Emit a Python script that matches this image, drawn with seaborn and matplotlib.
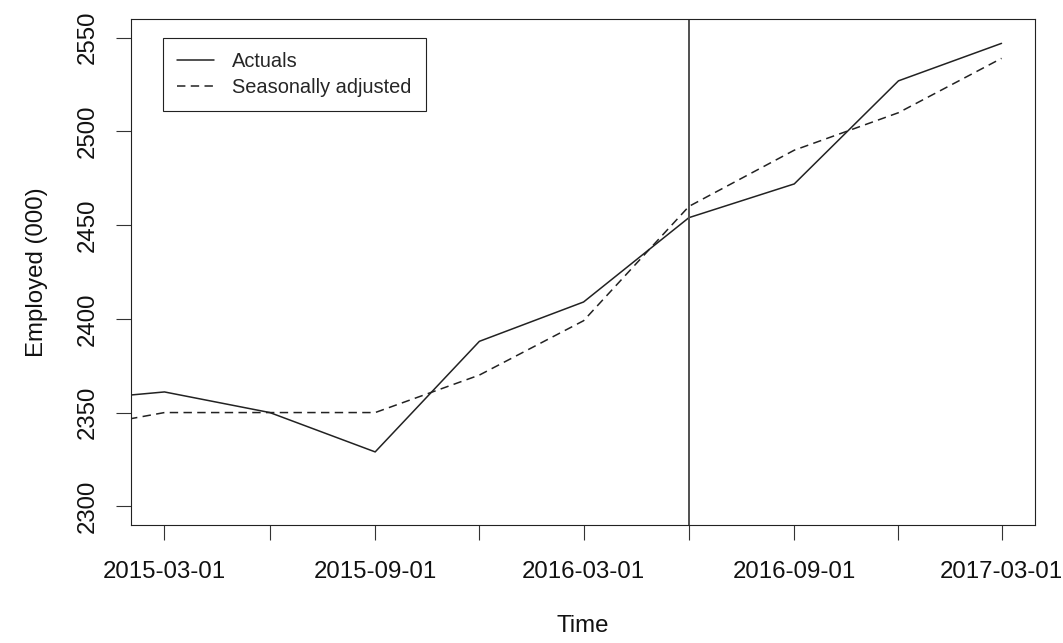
import matplotlib
matplotlib.use("Agg")
import matplotlib.pyplot as plt
import matplotlib.dates as mdates
from matplotlib.lines import Line2D
import numpy as np
import pandas as pd
import seaborn as sns

# Quarterly employment, thousands
quarters = ["2014-12-01", "2015-03-01", "2015-06-01", "2015-09-01", "2015-12-01",
            "2016-03-01", "2016-06-01", "2016-09-01", "2016-12-01", "2017-03-01"]
actuals = [2356, 2361, 2350, 2329, 2388, 2409, 2454, 2472, 2527, 2547]
seasonally_adjusted = [2340, 2350, 2350, 2350, 2370, 2399, 2460, 2490, 2510, 2539]

series_names = ["Actuals", "Seasonally adjusted"]
tick_dates = ["2015-03-01", "2015-06-01", "2015-09-01", "2015-12-01", "2016-03-01",
              "2016-06-01", "2016-09-01", "2016-12-01", "2017-03-01"]
tick_labels = ["2015-03-01", "", "2015-09-01", "", "2016-03-01",
               "", "2016-09-01", "", "2017-03-01"]
y_ticks = [2300, 2350, 2400, 2450, 2500, 2550]
y_range = (2300, 2550)
marker_date = "2016-06-01"

sns.set_theme(style="white")
plt.rcParams["font.family"] = ["Liberation Sans", "DejaVu Sans"]

W, H = 1063, 643
fig = plt.figure(figsize=(W / 100, H / 100), dpi=100)
ax = fig.add_axes([131 / W, 118 / H, 904 / W, 506 / H])

df = pd.DataFrame({"date": pd.to_datetime(quarters),
                   series_names[0]: actuals,
                   series_names[1]: seasonally_adjusted})
long = df.melt("date", var_name="series", value_name="employed")

line_color = "#222222"
dash = (5.5, 3.5)
sns.lineplot(data=long, x="date", y="employed", style="series",
             dashes={series_names[0]: "", series_names[1]: dash},
             color=line_color, linewidth=1.1, ax=ax, legend=False)

ax.axvline(pd.Timestamp(marker_date), color="#505050", linewidth=1.4)

# R-style 4% padding around the plotted range
t0 = mdates.date2num(pd.Timestamp(tick_dates[0]))
t1 = mdates.date2num(pd.Timestamp(tick_dates[-1]))
xpad = (t1 - t0) * 0.04
ax.set_xlim(t0 - xpad, t1 + xpad)
ypad = (y_range[1] - y_range[0]) * 0.04
ax.set_ylim(y_range[0] - ypad, y_range[1] + ypad)

ax.set_xticks([mdates.date2num(pd.Timestamp(d)) for d in tick_dates])
ax.set_xticklabels(tick_labels)
ax.set_yticks(y_ticks)
ax.set_yticklabels([str(v) for v in y_ticks], rotation=90, va="center")

tick_fs = 17.3
ax.tick_params(axis="both", direction="out", length=11, width=0.8,
               color="#333333", labelsize=tick_fs, labelcolor="#111111",
               bottom=True, left=True, top=False, right=False)
ax.tick_params(axis="x", pad=15)
ax.tick_params(axis="y", pad=12)

for s in ax.spines.values():
    s.set_visible(True)
    s.set_color("#222222")
    s.set_linewidth(0.8)

ax.set_xlabel("Time", fontsize=tick_fs, color="#111111")
ax.set_ylabel("Employed (000)", fontsize=tick_fs, color="#111111")
ax.xaxis.set_label_coords(0.5, -0.178)
ax.yaxis.set_label_coords(-0.092, 0.5)

handles = [Line2D([], [], color=line_color, linewidth=1.1),
           Line2D([], [], color=line_color, linewidth=1.1, dashes=dash)]
leg = ax.legend(handles, series_names, loc="upper left",
                bbox_to_anchor=(163 / W, 1 - 38 / H), bbox_transform=fig.transFigure,
                borderaxespad=0, fontsize=14.4, frameon=True, fancybox=False,
                framealpha=1, edgecolor="#222222", borderpad=0.72,
                labelspacing=0.32, handlelength=1.85, handletextpad=0.9)
leg.get_frame().set_linewidth(0.8)

fig.savefig("out.png", dpi=100, facecolor="white")
